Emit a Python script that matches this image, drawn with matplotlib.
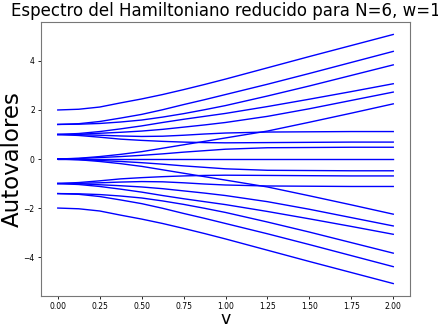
import matplotlib
matplotlib.use("Agg")
import matplotlib.pyplot as plt

# Sampled values of v
v = [0.0, 0.125, 0.25, 0.375, 0.5, 0.625, 0.75, 0.875, 1.0, 1.25, 1.5, 1.75, 2.0]

# Eigenvalue branches (upper half)
lvl_a = [2.00, 2.03, 2.12, 2.29, 2.45, 2.63, 2.83, 3.04, 3.26, 3.72, 4.18, 4.63, 5.08]
lvl_b = [1.41, 1.44, 1.53, 1.67, 1.82, 2.01, 2.22, 2.42, 2.63, 3.05, 3.49, 3.94, 4.39]
lvl_c = [1.41, 1.42, 1.45, 1.51, 1.59, 1.71, 1.85, 2.01, 2.18, 2.57, 2.98, 3.41, 3.84]
lvl_d = [1.00, 1.04, 1.12, 1.23, 1.35, 1.49, 1.62, 1.74, 1.86, 2.14, 2.44, 2.75, 3.07]
lvl_e = [1.00, 1.01, 1.05, 1.09, 1.14, 1.21, 1.30, 1.39, 1.49, 1.74, 2.05, 2.39, 2.73]
lvl_f = [0.00, 0.03, 0.10, 0.19, 0.30, 0.44, 0.58, 0.72, 0.86, 1.14, 1.50, 1.87, 2.25]
lvl_g = [1.00, 0.99, 0.97, 0.94, 0.92, 0.93, 0.97, 1.02, 1.06, 1.10, 1.11, 1.12, 1.12]
lvl_h = [1.00, 0.96, 0.89, 0.81, 0.76, 0.72, 0.69, 0.67, 0.66, 0.67, 0.68, 0.69, 0.69]
lvl_i = [0.00, 0.02, 0.06, 0.10, 0.15, 0.21, 0.28, 0.34, 0.40, 0.46, 0.47, 0.48, 0.48]
lvl_j = [0.00, 0.00, 0.00, 0.00, 0.00, 0.00, 0.00, 0.00, 0.00, 0.00, 0.00, 0.00, 0.00]
# lower half
lvl_na = [-2.00, -2.03, -2.12, -2.29, -2.45, -2.63, -2.83, -3.04, -3.26, -3.72, -4.18, -4.63, -5.08]
lvl_nb = [-1.41, -1.44, -1.53, -1.67, -1.82, -2.01, -2.22, -2.42, -2.63, -3.05, -3.49, -3.94, -4.39]
lvl_nc = [-1.41, -1.42, -1.45, -1.51, -1.59, -1.71, -1.85, -2.01, -2.18, -2.57, -2.98, -3.41, -3.84]
lvl_nd = [-1.00, -1.04, -1.12, -1.23, -1.35, -1.49, -1.62, -1.74, -1.86, -2.14, -2.44, -2.75, -3.07]
lvl_ne = [-1.00, -1.01, -1.05, -1.09, -1.14, -1.21, -1.30, -1.39, -1.49, -1.74, -2.05, -2.39, -2.73]
lvl_nf = [-0.00, -0.03, -0.10, -0.19, -0.30, -0.44, -0.58, -0.72, -0.86, -1.14, -1.50, -1.87, -2.25]
lvl_ng = [-1.00, -0.99, -0.97, -0.94, -0.92, -0.93, -0.97, -1.02, -1.06, -1.10, -1.11, -1.12, -1.12]
lvl_nh = [-1.00, -0.96, -0.89, -0.81, -0.76, -0.72, -0.69, -0.67, -0.66, -0.67, -0.68, -0.69, -0.69]
lvl_ni = [-0.00, -0.02, -0.06, -0.10, -0.15, -0.21, -0.28, -0.34, -0.40, -0.46, -0.47, -0.48, -0.48]

levels = [lvl_a, lvl_b, lvl_c, lvl_d, lvl_e, lvl_f, lvl_g, lvl_h, lvl_i, lvl_j,
          lvl_na, lvl_nb, lvl_nc, lvl_nd, lvl_ne, lvl_nf, lvl_ng, lvl_nh, lvl_ni]

xticks = [0.0, 0.25, 0.5, 0.75, 1.0, 1.25, 1.5, 1.75, 2.0]
yticks = [-4, -2, 0, 2, 4]

fig = plt.figure(figsize=(4.39, 3.31), dpi=100)
ax = fig.add_axes([0.0934, 0.1057, 0.8406, 0.8278])

for lv in levels:
    ax.plot(v, lv, color="blue", linewidth=1.0)

ax.set_xticks(xticks)
ax.set_xticklabels([f"{t:.2f}" for t in xticks])
ax.set_yticks(yticks)
ax.tick_params(labelsize=5.5, length=2.5, width=0.6, pad=2)
for s in ax.spines.values():
    s.set_linewidth(0.8)
    s.set_color("#777777")

ax.set_xlabel("v", fontsize=12.5)
ax.xaxis.set_label_coords(0.5, -0.052)
ax.set_ylabel("Autovalores", fontsize=16.5)
ax.yaxis.set_label_coords(-0.046, 0.5)
ax.set_title("Espectro del Hamiltoniano reducido para N=6, w=1", fontsize=12, pad=4)

fig.savefig("out.png", dpi=100)
